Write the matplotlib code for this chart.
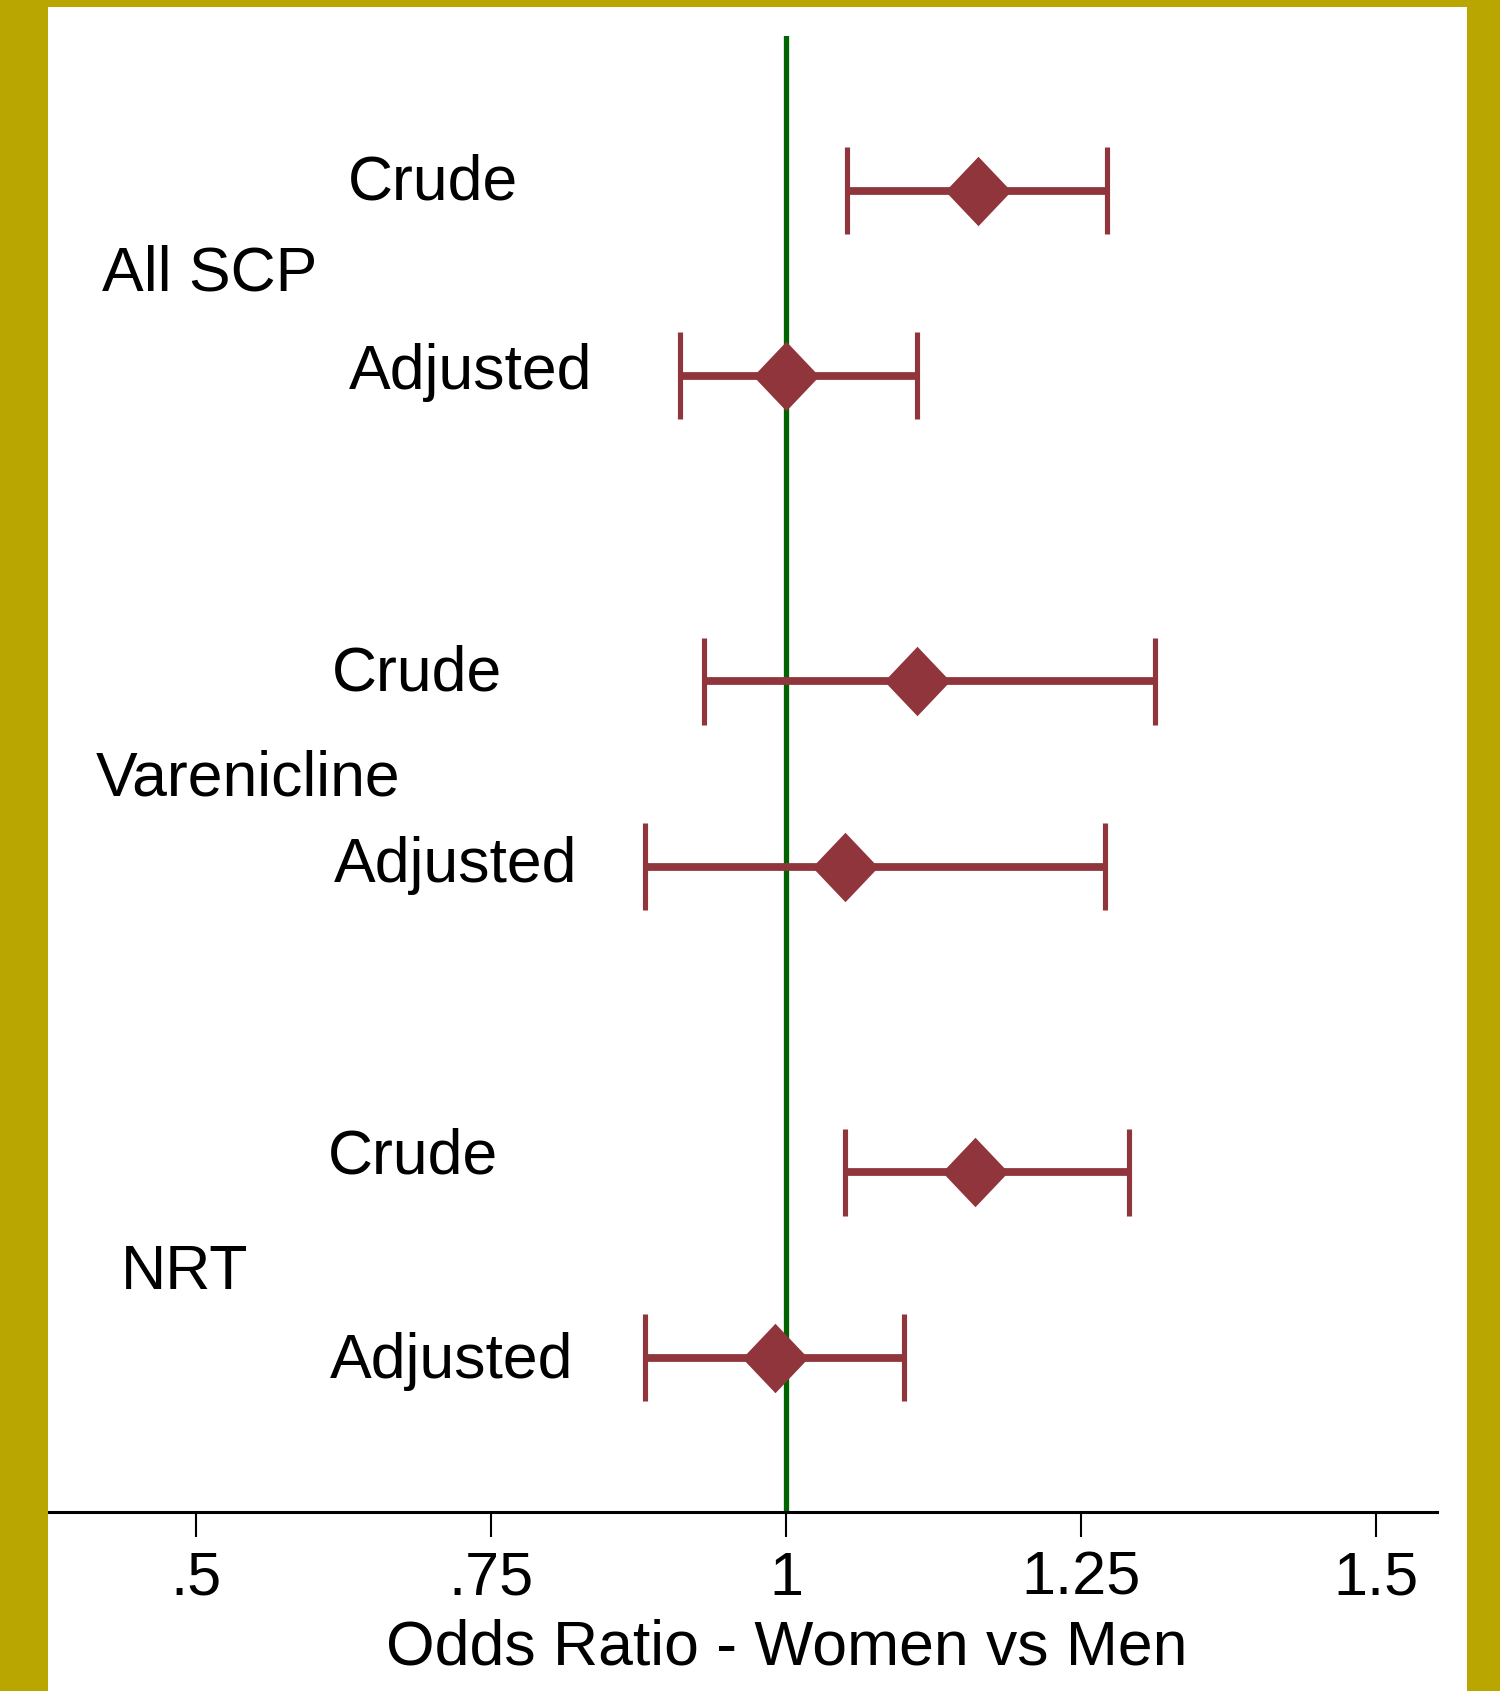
import matplotlib
matplotlib.use("Agg")
import matplotlib.pyplot as plt
from matplotlib.path import Path
from matplotlib.patches import Rectangle

# data
groups = ["All SCP", "Varenicline", "NRT"]
models = ["Crude", "Adjusted", "Crude", "Adjusted", "Crude", "Adjusted"]
odds_ratio = [1.162, 1.000, 1.111, 1.050, 1.160, 0.990]
ci_low = [1.051, 0.910, 0.930, 0.880, 1.050, 0.880]
ci_high = [1.272, 1.111, 1.312, 1.270, 1.290, 1.100]
xticks = [0.5, 0.75, 1.0, 1.25, 1.5]
xtick_labels = [".5", ".75", "1", "1.25", "1.5"]

# row positions (top to bottom)
rows = [0, 1, 2.65, 3.65, 5.3, 6.3]

red = "#90353B"
green = "#006400"
gold = "#B9A600"

plt.rcParams["font.family"] = ["Liberation Sans", "DejaVu Sans"]

fig = plt.figure(figsize=(15, 16.91), dpi=100)
fig.patch.set_facecolor("white")

# gold frame (left, top, right)
fig.patches.append(Rectangle((0, 0), 48 / 1500, 1, transform=fig.transFigure,
                             facecolor=gold, edgecolor="none", zorder=0))
fig.patches.append(Rectangle((0, 1 - 7 / 1691), 1, 7 / 1691, transform=fig.transFigure,
                             facecolor=gold, edgecolor="none", zorder=0))
fig.patches.append(Rectangle((1467 / 1500, 0), 33 / 1500, 1, transform=fig.transFigure,
                             facecolor=gold, edgecolor="none", zorder=0))

ax = fig.add_axes([48 / 1500, 179 / 1691, (1437 - 48) / 1500, (1512 - 36) / 1691])
ax.set_facecolor("white")

# reference line at OR = 1
ax.axvline(1.0, color=green, lw=3.8, zorder=1)

# confidence intervals
ax.hlines(rows, ci_low, ci_high, color=red, lw=5.6, zorder=2)
cap = 0.235
ax.vlines(ci_low, [r - cap for r in rows], [r + cap for r in rows], color=red, lw=3.7, zorder=2)
ax.vlines(ci_high, [r - cap for r in rows], [r + cap for r in rows], color=red, lw=3.7, zorder=2)

# diamond markers, a bit taller than wide
diamond = Path([(0, 1), (0.95, 0), (0, -1), (-0.95, 0), (0, 1)],
               [Path.MOVETO, Path.LINETO, Path.LINETO, Path.LINETO, Path.CLOSEPOLY])
ax.plot(odds_ratio, rows, linestyle="none", marker=diamond, markersize=50,
        markerfacecolor=red, markeredgewidth=0, zorder=3)

# model labels
model_x = [0.6281, 0.6292, 0.6148, 0.6164, 0.6112, 0.6131]
model_y = [-0.078, 0.947, 2.577, 3.606, 5.183, 6.284]
for x, y, name in zip(model_x, model_y, models):
    ax.text(x, y, name, fontsize=45, ha="left", va="center_baseline")

# group labels
group_x = [0.4197, 0.4148, 0.4360]
group_y = [0.416, 3.144, 5.803]
for x, y, name in zip(group_x, group_y, groups):
    ax.text(x, y, name, fontsize=45, ha="left", va="center_baseline")

ax.set_xlim(0.3742, 1.5513)
ax.set_ylim(7.133, -0.834)

for side in ["left", "top", "right"]:
    ax.spines[side].set_visible(False)
ax.spines["bottom"].set_linewidth(2.2)
ax.set_yticks([])
ax.set_xticks(xticks)
ax.set_xticklabels(xtick_labels)
ax.tick_params(axis="x", length=18, width=1.5, direction="out", labelsize=44, pad=10)
ax.set_xlabel("Odds Ratio - Women vs Men", fontsize=45)
ax.xaxis.set_label_coords(0.532, -0.072)

plt.savefig("out.png", dpi=100, facecolor=fig.get_facecolor())
